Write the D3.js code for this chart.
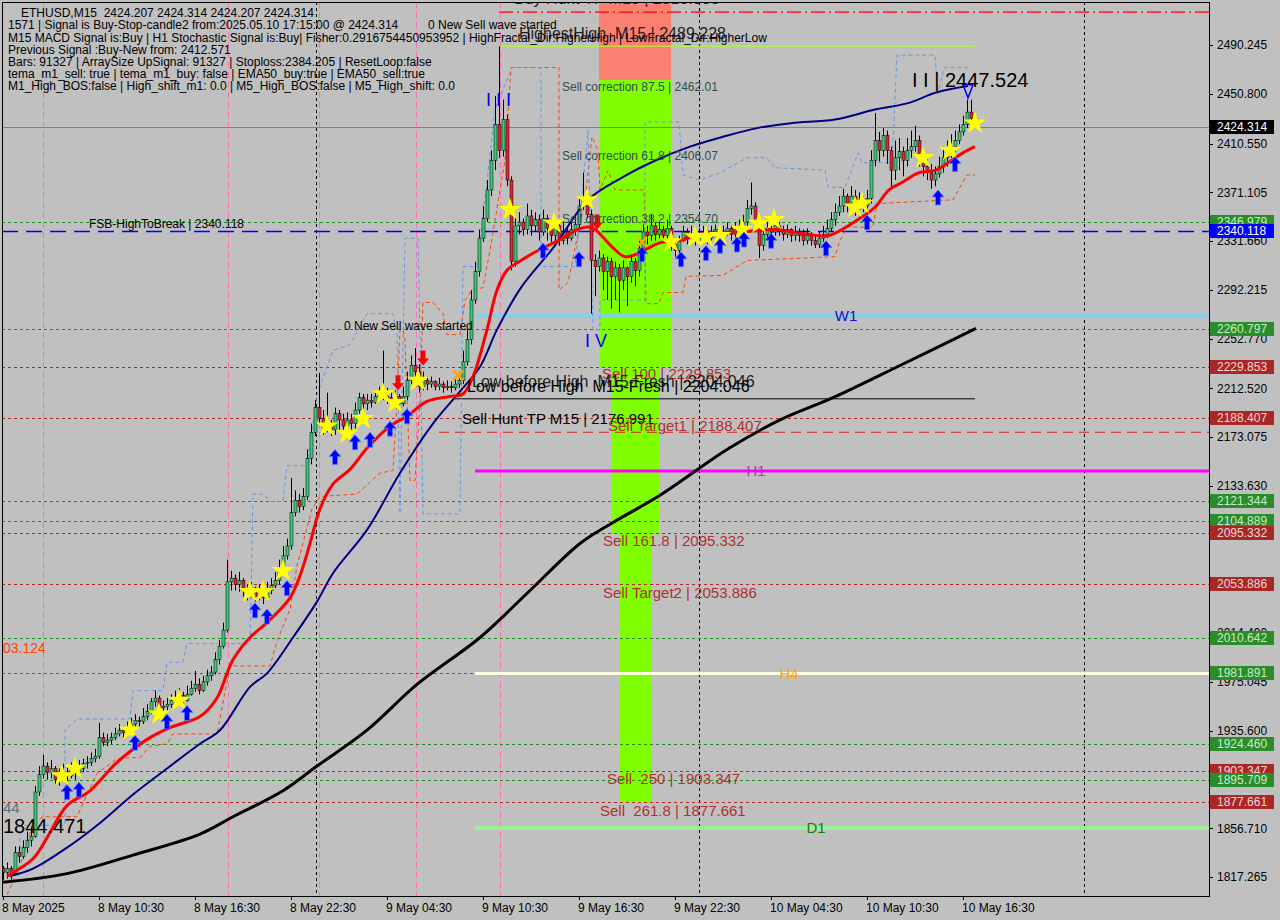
<!DOCTYPE html>
<html><head><meta charset="utf-8">
<script src="https://cdn.jsdelivr.net/npm/d3@7"></script>
<style>
html,body{margin:0;padding:0;background:#c0c0c0;}
svg{display:block;font-family:"Liberation Sans",Arial,sans-serif;}
</style></head><body>
<svg id="chart" width="1280" height="920"></svg>
<script>
// ---------------- DATA ----------------
const firstOpen = 1824;
const closes = [
1821,1824,1820,1837,1834,1841,1847,1850,1886,1900,
1907,1902,1905,1896,1899,1902,1899,1904,1902,1905,
1909,1910,1913,1915,1930,1926,1928,1930,1933,1936,
1934,1938,1941,1944,1943,1947,1951,1959,1962,1954,
1955,1957,1960,1962,1964,1960,1965,1970,1973,1968,
1975,1980,1983,1993,2004,2017,2056,2059,2054,2057,
2049,2046,2051,2044,2048,2043,2049,2053,2057,2067,
2077,2085,2112,2122,2117,2125,2156,2177,2197,2188,
2180,2184,2179,2192,2187,2182,2187,2184,2195,2205,
2200,2203,2201,2206,2209,2206,2205,2201,2206,2200,
2206,2219,2231,2226,2214,2219,2216,2218,2214,2216,
2213,2214,2213,2216,2219,2234,2252,2284,2307,2334,
2350,2373,2397,2426,2405,2430,2381,2315,2344,2347,
2341,2352,2344,2349,2339,2350,2342,2336,2344,2332,
2339,2334,2341,2345,2360,2365,2353,2316,2311,2318,
2307,2315,2303,2310,2300,2310,2303,2315,2308,2326,
2339,2336,2344,2337,2341,2336,2342,2329,2324,2332,
2339,2334,2337,2332,2336,2339,2334,2337,2341,2336,
2339,2342,2337,2341,2344,2347,2358,2360,2347,2328,
2337,2342,2339,2344,2341,2337,2341,2336,2339,2336,
2332,2336,2332,2329,2334,2337,2342,2349,2355,2360,
2368,2362,2368,2357,2365,2360,2366,2397,2413,2405,
2417,2405,2389,2399,2404,2397,2405,2408,2413,2400,
2392,2387,2381,2386,2392,2399,2405,2408,2413,2420,
2426,2436,2431,2424.314];
const highs = [
1826,1829,1826,1842,1842,1847,1854,1858,1891,1907,
1916,1910,1912,1907,1905,1909,1907,1910,1909,1912,
1913,1915,1918,1921,1942,1934,1933,1934,1938,1941,
1939,1943,1946,1949,1947,1954,1957,1962,1968,1964,
1960,1962,1965,1968,1970,1967,1972,1976,1984,1978,
1980,1985,1988,1999,2009,2023,2074,2065,2062,2064,
2059,2054,2056,2052,2054,2051,2056,2059,2064,2074,
2085,2091,2140,2130,2127,2132,2163,2184,2203,2225,
2195,2209,2187,2197,2195,2192,2193,2192,2201,2209,
2208,2208,2208,2211,2214,2243,2213,2209,2211,2208,
2214,2226,2239,2245,2232,2226,2222,2222,2219,2221,
2218,2219,2218,2222,2226,2243,2260,2292,2315,2341,
2360,2381,2405,2449,2489.228,2446,2434,2384,2352,2355,
2350,2362,2357,2355,2353,2357,2353,2349,2349,2345,
2347,2342,2347,2352,2366,2387,2368,2357,2321,2324,
2321,2319,2318,2315,2313,2316,2311,2321,2318,2332,
2345,2344,2353,2347,2347,2344,2349,2344,2332,2336,
2344,2342,2344,2341,2342,2344,2341,2344,2345,2342,
2344,2347,2344,2347,2349,2353,2365,2379,2363,2350,
2344,2349,2345,2349,2347,2344,2345,2342,2344,2342,
2341,2342,2339,2337,2339,2344,2349,2355,2362,2368,
2374,2370,2376,2373,2371,2368,2373,2405,2435,2420,
2423,2421,2408,2413,2415,2408,2415,2421,2425,2417,
2407,2399,2394,2392,2400,2408,2413,2418,2421,2426,
2433,2446,2446,2431];
const lows = [
1815,1816,1815,1823,1829,1832,1837,1842,1849,1883,
1897,1896,1897,1892,1891,1896,1894,1897,1896,1899,
1902,1905,1907,1910,1913,1923,1923,1925,1928,1931,
1930,1933,1936,1939,1938,1941,1944,1949,1955,1951,
1951,1952,1954,1957,1959,1955,1959,1964,1967,1965,
1967,1972,1976,1981,1989,2002,2015,2049,2049,2048,
2044,2041,2043,2040,2041,2038,2043,2046,2051,2054,
2064,2074,2082,2109,2112,2114,2122,2151,2174,2184,
2175,2177,2174,2175,2179,2177,2179,2179,2180,2192,
2190,2195,2197,2200,2203,2203,2200,2197,2198,2195,
2198,2203,2216,2221,2209,2211,2211,2213,2211,2211,
2209,2211,2209,2211,2213,2216,2231,2248,2281,2303,
2331,2347,2368,2389,2399,2400,2376,2308,2311,2337,
2336,2337,2336,2339,2332,2336,2332,2331,2331,2328,
2329,2329,2332,2336,2342,2357,2350,2273,2287,2307,
2292,2284,2277,2284,2274,2292,2279,2298,2295,2303,
2321,2329,2332,2332,2334,2331,2332,2324,2319,2321,
2331,2329,2332,2328,2331,2332,2329,2332,2334,2331,
2332,2336,2332,2334,2336,2339,2344,2353,2341,2318,
2324,2332,2334,2336,2336,2332,2334,2331,2332,2331,
2328,2329,2328,2326,2326,2331,2334,2339,2344,2352,
2355,2355,2358,2352,2353,2355,2357,2362,2392,2396,
2400,2394,2373,2381,2389,2384,2392,2399,2404,2392,
2384,2381,2374,2376,2383,2387,2392,2399,2404,2410,
2417,2423,2426,2423];

// moving averages (traced), [barIndex, price]
const emaFastPts = [[1,1818],[7.5,1832],[11,1849],[16,1875],[21.75,1887],[28.5,1910],[36.75,1930],[42.5,1939],[49.25,1947],[53.5,1962],[56,1982],[57.5,1993],[61.75,2011],[66,2023],[71.75,2043],[74.25,2061],[76.75,2087],[79.25,2115],[82.5,2135],[86.75,2147],[91,2164],[96.75,2182],[101,2190],[106,2202],[111.75,2206],[115,2208],[117.5,2222],[121,2260],[123.5,2292],[126,2308],[129.5,2316],[133.75,2324],[138.75,2332],[143.75,2341],[146.25,2343],[148,2341],[152.25,2327],[155.5,2319],[159,2322],[164,2330],[169,2332],[175.75,2338],[184.25,2339],[192.75,2341],[199.5,2338],[206.25,2336],[209.75,2341],[213.75,2349],[218,2359],[221.5,2373],[224.75,2379],[229,2387],[233.25,2389],[236.75,2396],[240,2403],[243,2408]];
const emaMidPts = [[1.75,1818],[7.5,1824],[16,1841],[24.25,1861],[32.5,1884],[41,1905],[49.25,1925],[54.25,1936],[61.75,1971],[66,1982],[72.5,2011],[78.5,2040],[82.5,2063],[91,2098],[99.25,2144],[107.5,2184],[114.25,2210],[119.25,2230],[123.5,2260],[129.5,2294],[137.75,2327],[146.25,2365],[154.75,2383],[163.25,2397],[171.75,2408],[180,2416],[188.5,2423],[197,2427],[208,2430],[218,2438],[226,2443],[233.5,2452],[241.25,2457]];
const smaSlowPts = [[0,1813],[16,1820],[32.5,1835],[49.25,1852],[57.5,1866],[70,1887],[78.5,1907],[91,1936],[103.5,1973],[119.25,2011],[131.75,2049],[144.25,2087],[152.5,2104],[164.25,2126],[181.5,2164],[194.25,2187],[207.5,2205],[224.25,2231],[243.25,2261]];
const lowerBandPts = [[1,1803],[4.25,1826],[7.5,1861],[10,1866],[18.5,1866],[21,1884],[23.5,1901],[28.5,1913],[34.25,1914],[36.75,1923],[41,1925],[42.5,1933],[53.5,1933],[56.75,1988],[66.75,1988],[68.5,2008],[71.75,2034],[73.5,2069],[77.25,2115],[79.25,2125],[88.5,2127],[94.25,2144],[97.5,2146],[98.5,2203],[99.25,2260],[100,2260],[100.5,2252],[101.75,2138],[103,2138],[104.25,2203],[105,2282],[107.5,2282],[110,2273],[111,2256],[114.25,2256],[115.5,2284],[117.25,2292],[120,2294],[121.75,2324],[125.5,2397],[127,2472],[139,2472],[139,2292],[141.25,2298],[145.5,2365],[147.25,2416],[148.75,2405],[149.25,2373],[151.25,2389],[153,2373],[160.25,2373],[160.75,2281],[164,2281],[165,2290],[170,2290],[170.75,2303],[180,2304],[186,2316],[208,2319],[209.25,2332],[211,2343],[217.5,2343],[218.5,2362],[237.5,2365],[241,2385],[243,2385]];
const upperBandPts = [[4.25,1823],[4.25,1859],[15.5,1859],[15.5,1936],[18.5,1945],[31.75,1945],[32.5,1968],[40,1968],[41,1991],[45,1991],[46,2006],[61.75,2006],[62.5,2127],[65,2127],[66.75,2121],[70,2121],[71,2150],[76,2150],[78.5,2207],[82.5,2243],[86.75,2248],[91,2273],[97.5,2273],[98.5,2257],[99.25,2111],[100.5,2334],[103.75,2334],[104.25,2257],[105,2111],[114.25,2111],[115,2311],[118.5,2311],[120.5,2365],[123,2438],[127.25,2472],[134.5,2472],[134.5,2311],[143,2311],[146.25,2421],[147.5,2260],[149.25,2260],[149.25,2284],[160.5,2284],[160.5,2428],[169,2428],[170,2385],[174.25,2381],[179.25,2387],[186,2399],[191,2399],[192.75,2391],[205.5,2389],[206.25,2375],[210.5,2375],[213.75,2403],[214.75,2395],[222.25,2395],[223.5,2482],[233,2482],[233.75,2451],[235.25,2472],[242,2472]];

// signal markers [barIndex, price]
const starPts = [[14.75,1899],[18,1905],[31.75,1936],[39,1949],[44,1960],[61.75,2048],[65,2048],[70,2065],[81,2182],[86,2176],[90,2188],[95,2208],[98,2201],[103.75,2219],[126.75,2357],[137.75,2346],[146,2365],[167,2331],[173,2335],[175.75,2335],[179.25,2336],[184.75,2341],[189,2346],[192.75,2349],[213,2359],[214.75,2362],[230,2399],[236.75,2405],[243,2427]];
const upArrowPts = [[16,1892],[19,1894],[33,1932],[41,1949],[46,1956],[63,2039],[66,2034],[71,2057],[83,2163],[88,2175],[91.75,2177],[96.75,2186],[101,2196],[135,2330],[144,2323],[159.75,2327],[169.5,2323],[175.75,2328],[179.25,2334],[183.5,2335],[185.25,2339],[192,2338],[205.75,2332],[216,2353],[233.75,2373],[238,2400]];
const downArrowPts = [[98.75,2211],[105,2231],[148.5,2341]];
const crossPts = [[113.75,2223],[159.75,2331]];

// horizontal levels
const levelValues = [2346.979,2340.118,2260.797,2229.853,2188.407,2121.344,2104.889,2095.332,2053.886,2010.642,1981.891,1924.460,1903.347,1895.709,1877.661];
const levelKinds  = ["green","blue","green","red","red","green","green","red","red","green","green","green","red","green","red"];
const lastPrice = 2424.314;
const zoneNames = ["W1","H1","H4","D1"];
const zoneValues = [2271.0,2145.6,1981.891,1856.8];

// fib boxes [fromBar, toBar, topPrice, bottomPrice]
const salmonBox = [149,167,2530,2462.01];
const greenBoxes = [[149,167,2462.01,2229.853],[152,164,2229.853,2095.332],[154.25,162,2095.332,1877.661]];

// axis ticks
const yTickValues = [2490.245,2450.800,2410.550,2371.105,2331.660,2292.215,2252.770,2212.520,2173.075,2133.630,2094.185,2054.740,2014.490,1975.045,1935.600,1896.155,1856.710,1817.265];
const xTickBars = [0,24,48,72,96,120,144,168,192,216,240];
const xTickLabels = ["8 May 2025","8 May 10:30","8 May 16:30","8 May 22:30","9 May 04:30","9 May 10:30","9 May 16:30","9 May 22:30","10 May 04:30","10 May 10:30","10 May 16:30"];

const infoLines = [
 "ETHUSD,M15  2424.207 2424.314 2424.207 2424.314",
 "1571 | Signal is Buy-Stop-candle2 from:2025.05.10 17:15:00 @ 2424.314",
 "M15 MACD Signal is:Buy | H1 Stochastic Signal is:Buy| Fisher:0.2916754450953952 | HighFractal_Dir:HigherHigh | LowFractal_Dir:HigherLow",
 "Previous Signal :Buy-New from: 2412.571",
 "Bars: 91327 | ArraySize UpSignal: 91327 | Stoploss:2384.205 | ResetLoop:false",
 "tema_m1_sell: true | tema_m1_buy: false | EMA50_buy:true | EMA50_sell:true",
 "M1_High_BOS:false | High_shift_m1: 0.0 | M5_High_BOS:false | M5_High_shift: 0.0"];

// ---------------- DRAW ----------------
const svg = d3.select("#chart");
const P = {l:2, r:1209, t:2, b:896};
const x = d3.scaleLinear().domain([0,243]).range([3,975]);
const y = d3.scaleLinear().domain([1817.265,2490.245]).range([877,45]);
const xEnd = x.invert(P.r);

svg.append("rect").attr("width",1280).attr("height",920).attr("fill","#c0c0c0");
svg.append("defs").append("clipPath").attr("id","clip")
  .append("rect").attr("x",P.l).attr("y",P.t).attr("width",P.r-P.l).attr("height",P.b-P.t);
const g = svg.append("g").attr("clip-path","url(#clip)");

// fib boxes
g.append("rect").attr("x",x(salmonBox[0])).attr("width",x(salmonBox[1])-x(salmonBox[0]))
  .attr("y",y(salmonBox[2])).attr("height",y(salmonBox[3])-y(salmonBox[2])).attr("fill","#fa8072");
g.selectAll(".gb").data(greenBoxes).enter().append("rect")
  .attr("x",d=>x(d[0])).attr("width",d=>x(d[1])-x(d[0]))
  .attr("y",d=>y(d[2])).attr("height",d=>y(d[3])-y(d[2])).attr("fill","#7fff00");

// vertical separators
const pinkBars=[10,56.25,79,103.25,124.25], blackBars=[78.25,174,270.25];
g.selectAll(".pv").data(pinkBars).enter().append("line")
  .attr("x1",d=>Math.round(x(d))+0.5).attr("x2",d=>Math.round(x(d))+0.5).attr("y1",P.t).attr("y2",P.b)
  .attr("stroke","#ff6eb4").attr("stroke-dasharray","6,4");
g.selectAll(".bv").data(blackBars).enter().append("line")
  .attr("x1",d=>Math.round(x(d))+0.5).attr("x2",d=>Math.round(x(d))+0.5).attr("y1",P.t).attr("y2",P.b)
  .attr("stroke","#000").attr("stroke-dasharray","3,3");

// horizontal levels
const kindColor = {green:"#1e8c1e", red:"#b02828", blue:"#0000ff"};
g.selectAll(".lv").data(levelValues).enter().append("line")
  .attr("x1",P.l).attr("x2",P.r).attr("y1",d=>Math.round(y(d))+0.5).attr("y2",d=>Math.round(y(d))+0.5)
  .attr("stroke",(d,i)=>kindColor[levelKinds[i]])
  .attr("stroke-width",(d,i)=>levelKinds[i]==="blue"?1.3:1)
  .attr("stroke-dasharray",(d,i)=>levelKinds[i]==="blue"?"16,8":"3,3");
g.append("line").attr("x1",P.l).attr("x2",P.r).attr("y1",Math.round(y(lastPrice))+0.5).attr("y2",Math.round(y(lastPrice))+0.5)
  .attr("stroke","#808080");

// special lines
const segs = [
 {from:124,to:xEnd,v:2516.9,c:"#ff0000",w:1.2,d:"14,4,2,4"},
 {from:124,to:243,v:2489.228,c:"#adff2f",w:1.2,d:null},
 {from:113,to:243,v:2204.046,c:"#000000",w:1,d:null},
 {from:109,to:xEnd,v:2176.991,c:"#e02020",w:1,d:"10,6"}
];
g.selectAll(".sg").data(segs).enter().append("line")
  .attr("x1",d=>x(d.from)).attr("x2",d=>x(d.to)).attr("y1",d=>y(d.v)).attr("y2",d=>y(d.v))
  .attr("stroke",d=>d.c).attr("stroke-width",d=>d.w).attr("stroke-dasharray",d=>d.d);
const zoneColor = ["#87ceeb","#ff00ff","#fffde0","#98f098"];
const zoneWidth = [4,3,3,4];
g.selectAll(".zn").data(zoneValues).enter().append("line")
  .attr("x1",x(118)).attr("x2",P.r).attr("y1",d=>y(d)).attr("y2",d=>y(d))
  .attr("stroke",(d,i)=>zoneColor[i]).attr("stroke-width",(d,i)=>zoneWidth[i]);

// band lines
const line = d3.line().x(d=>x(d[0])).y(d=>y(d[1]));
const smooth = d3.line().x(d=>x(d[0])).y(d=>y(d[1])).curve(d3.curveCatmullRom.alpha(0.5));
g.append("path").attr("d",line(lowerBandPts)).attr("fill","none").attr("stroke","#ff4500").attr("stroke-width",1).attr("stroke-dasharray","4,3");
g.append("path").attr("d",line(upperBandPts)).attr("fill","none").attr("stroke","#6495ed").attr("stroke-width",1).attr("stroke-dasharray","4,3");

// candles
const bars = closes.map((c,i)=>{
  const o = i===0?firstOpen:closes[i-1];
  return {i,o,c,h:Math.max(highs[i],o,c),l:Math.min(lows[i],o,c)};
});
g.selectAll(".wk").data(bars).enter().append("line")
  .attr("x1",d=>Math.round(x(d.i))+0.5).attr("x2",d=>Math.round(x(d.i))+0.5)
  .attr("y1",d=>y(d.h)).attr("y2",d=>y(d.l)).attr("stroke","#000");
g.selectAll(".bd").data(bars).enter().append("rect")
  .attr("x",d=>Math.round(x(d.i))-1).attr("width",3)
  .attr("y",d=>y(Math.max(d.o,d.c))).attr("height",d=>Math.max(1,Math.abs(y(d.o)-y(d.c))))
  .attr("fill",d=>d.c>=d.o?"#3cc878":"#d8283c").attr("stroke","#000").attr("stroke-width",0.5);

// moving averages
g.append("path").attr("d",smooth(smaSlowPts)).attr("fill","none").attr("stroke","#000").attr("stroke-width",3);
g.append("path").attr("d",smooth(emaMidPts)).attr("fill","none").attr("stroke","#000080").attr("stroke-width",2);
g.append("path").attr("d",smooth(emaFastPts)).attr("fill","none").attr("stroke","#ff0000").attr("stroke-width",3);

// markers
const star = d3.symbol().type(d3.symbolStar).size(160);
g.selectAll(".st").data(starPts).enter().append("path").attr("d",star)
  .attr("transform",d=>`translate(${x(d[0])},${y(d[1])})`).attr("fill","#ffff00");
const upArrow = "M0,0 L6,7 L2.5,7 L2.5,15 L-2.5,15 L-2.5,7 L-6,7 Z";
g.selectAll(".ua").data(upArrowPts).enter().append("path").attr("d",upArrow)
  .attr("transform",d=>`translate(${x(d[0])},${y(d[1])})`).attr("fill","#0000ff").attr("stroke","#5a7cff").attr("stroke-width",0.8);
g.selectAll(".da").data(downArrowPts).enter().append("path").attr("d",upArrow)
  .attr("transform",d=>`translate(${x(d[0])},${y(d[1])}) scale(1,-1)`).attr("fill","#ff0000");
g.selectAll(".cx").data(crossPts).enter().append("path").attr("d","M-5,-5 L5,5 M-5,5 L5,-5")
  .attr("transform",d=>`translate(${x(d[0])},${y(d[1])})`).attr("stroke","#ffa500").attr("stroke-width",2.5);
// wave V marker
g.append("path").attr("d",`M${x(240)},${y(2458)} L${x(242.5)},${y(2458)} L${x(241.25)},${y(2447.524)} Z`)
  .attr("fill","none").attr("stroke","#0000ff").attr("stroke-width",1.5);

// annotations [text, bar, price, size, color, anchor]
const ann = [
 ["Buy Hunt TP M15 | 2510.308",127.75,2528,16,"#222","start"],
 ["0 New Sell wave started",106.25,2506.4,12,"#000","start"],
 ["HighestHigh  M15 | 2489.228",129,2500,16,"#222","start"],
 ["Sell correction 87.5 | 2462.01",139.75,2456.3,12,"#2f4f4f","start"],
 ["Sell correction 61.8 | 2406.07",139.75,2400.5,12,"#2f4f4f","start"],
 ["Sell correction 38.2 | 2354.70",139.75,2349.5,12,"#2f4f4f","start"],
 ["FSB-HighToBreak | 2340.118",21.5,2345.5,12,"#000","start"],
 ["0 New Sell wave started",85.25,2263,12,"#000","start"],
 ["I I I",120.75,2445.8,18,"#0000ff","start"],
 ["I V",145.5,2251.6,18,"#0000ff","start"],
 ["I I | 2447.524",227.25,2461.9,20,"#000","start"],
 ["W1",210.75,2271,15,"#1010c8","middle"],
 ["H1",188.25,2145.6,15,"#cc22cc","middle"],
 ["H4",196.5,1981.5,15,"#ffa500","middle"],
 ["D1",203.25,1856.9,15,"#108010","middle"],
 ["Sell 100 | 2229.853",149.75,2224.1,15,"#b03030","start"],
 ["Low before High  M15-Fresh | 2204.046",117.25,2218.4,16,"#222","start"],
 ["Low before High  M15-Fresh | 2204.046",116,2214.4,16,"#000","start"],
 ["Sell Hunt TP M15 | 2176.991",114.75,2187.7,15,"#000","start"],
 ["Sell Target1 | 2188.407",151.25,2182,15,"#b03030","start"],
 ["Sell 161.8 | 2095.332",150,2089,15,"#b03030","start"],
 ["Sell Target2 | 2053.886",150,2047,15,"#b03030","start"],
 ["Sell  250 | 1903.347",151,1896.5,15,"#b03030","start"],
 ["Sell  261.8 | 1877.661",149.25,1870.6,15,"#b03030","start"],
 ["03.124",0,2002.8,14,"#ff4500","start"],
 ["44",0,1873.1,15,"#607080","start"],
 ["1844.471",0,1858.5,20,"#000","start"]
];
g.selectAll(".an").data(ann).enter().append("text")
  .attr("x",d=>x(d[1])).attr("y",d=>y(d[2])).attr("dy","0.36em")
  .attr("font-size",d=>d[3]).attr("fill",d=>d[4]).attr("text-anchor",d=>d[5])
  .style("white-space","pre").text(d=>d[0]);

// info lines
svg.selectAll(".inf").data(infoLines).enter().append("text")
  .attr("x",(d,i)=>i===0?21:8).attr("y",(d,i)=>13+i*12.1).attr("dy","0.36em")
  .attr("font-size",12).attr("fill","#000").style("white-space","pre").text(d=>d);

// frame
svg.append("rect").attr("x",P.l+0.5).attr("y",P.t+0.5).attr("width",P.r-P.l).attr("height",P.b-P.t)
  .attr("fill","none").attr("stroke","#000");

// right axis
const ya = svg.append("g");
ya.selectAll(".tk").data(yTickValues).enter().append("line")
  .attr("x1",P.r).attr("x2",P.r+4).attr("y1",d=>Math.round(y(d))+0.5).attr("y2",d=>Math.round(y(d))+0.5).attr("stroke","#000");
ya.selectAll(".tl").data(yTickValues).enter().append("text")
  .attr("x",1217).attr("y",d=>y(d)).attr("dy","0.36em").attr("font-size",12).attr("fill","#000")
  .text(d=>d.toFixed(3));
const boxFill = {green:"#2a8c2a", red:"#a82828", blue:"#0000ff"};
const boxText = {green:"#c8ecc8", red:"#f4d4d4", blue:"#ffffff"};
const lab = ya.selectAll(".lb").data(levelValues).enter().append("g")
  .attr("transform",d=>`translate(1210,${Math.round(y(d))})`);
lab.append("rect").attr("x",0).attr("y",-7).attr("width",64).attr("height",14).attr("fill",(d,i)=>boxFill[levelKinds[i]]);
lab.append("text").attr("x",7).attr("y",0).attr("dy","0.36em").attr("font-size",12)
  .attr("fill",(d,i)=>boxText[levelKinds[i]]).text(d=>d.toFixed(3));
const cp = ya.append("g").attr("transform",`translate(1210,${Math.round(y(lastPrice))})`);
cp.append("rect").attr("y",-7).attr("width",64).attr("height",14).attr("fill","#000");
cp.append("text").attr("x",7).attr("dy","0.36em").attr("font-size",12).attr("fill","#fff").text(lastPrice.toFixed(3));

// bottom axis
const xa = svg.append("g");
xa.selectAll(".xt").data(xTickBars).enter().append("line")
  .attr("x1",d=>Math.round(x(d))+0.5).attr("x2",d=>Math.round(x(d))+0.5).attr("y1",P.b).attr("y2",P.b+4).attr("stroke","#000");
xa.selectAll(".xl").data(xTickBars).enter().append("text")
  .attr("x",d=>x(d)-1).attr("y",912).attr("font-size",12).attr("fill","#000")
  .text((d,i)=>xTickLabels[i]);
</script>
</body></html>
